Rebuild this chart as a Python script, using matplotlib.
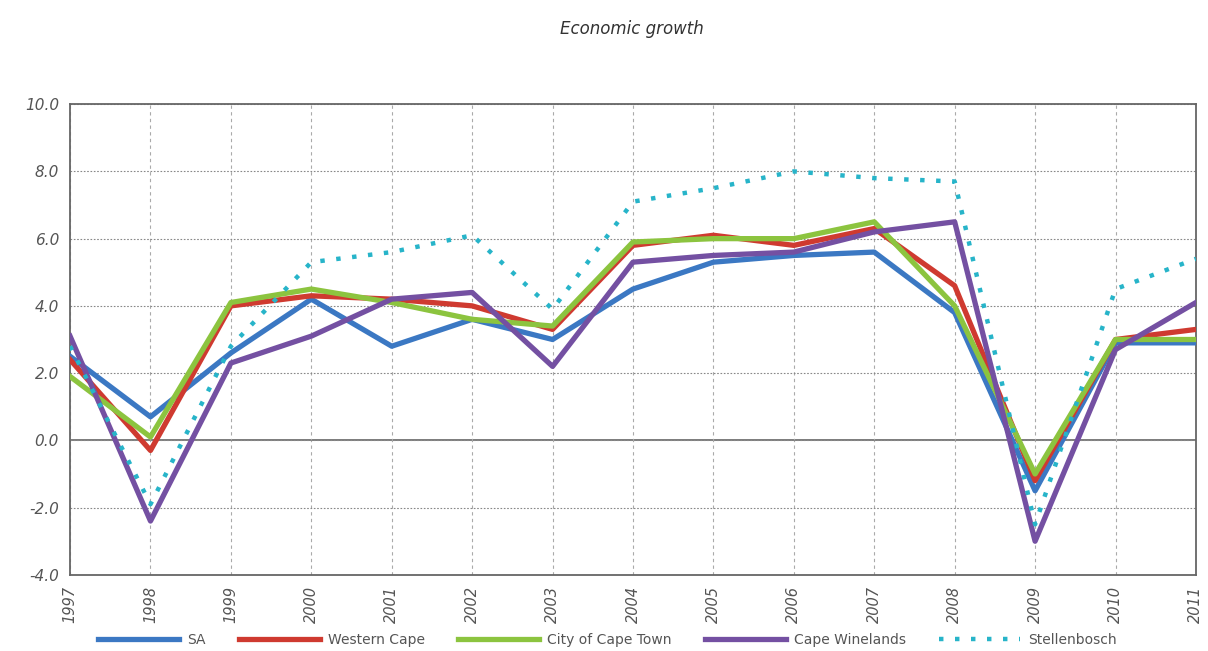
import numpy as np
import matplotlib.pyplot as plt

years = list(range(1997, 2012))

sa = [2.5, 0.7, 2.6, 4.2, 2.8, 3.6, 3.0, 4.5, 5.3, 5.5, 5.6, 3.8, -1.5, 2.9, 2.9]
western_cape = [2.4, -0.3, 4.0, 4.3, 4.2, 4.0, 3.3, 5.8, 6.1, 5.8, 6.3, 4.6, -1.2, 3.0, 3.3]
city_cape_town = [1.9, 0.1, 4.1, 4.5, 4.1, 3.6, 3.4, 5.9, 6.0, 6.0, 6.5, 4.0, -1.0, 3.0, 3.0]
cape_winelands = [3.1, -2.4, 2.3, 3.1, 4.2, 4.4, 2.2, 5.3, 5.5, 5.6, 6.2, 6.5, -3.0, 2.7, 4.1]
stellenbosch = [2.8, -1.9, 2.8, 5.3, 5.6, 6.1, 3.9, 7.1, 7.5, 8.0, 7.8, 7.7, -2.5, 4.5, 5.4]

y_ticks = [-4.0, -2.0, 0.0, 2.0, 4.0, 6.0, 8.0, 10.0]


def plot_chart():
    fig = plt.figure(figsize=(12.08, 6.51), dpi=100)
    ax = fig.add_axes([0.058, 0.117, 0.932, 0.723])

    ax.plot(years, sa, color='#3b78c3', lw=3.8, label='SA', zorder=3)
    ax.plot(years, western_cape, color='#cf3a30', lw=3.8, label='Western Cape', zorder=3)
    ax.plot(years, city_cape_town, color='#8cc43f', lw=3.8, label='City of Cape Town', zorder=3)
    ax.plot(years, cape_winelands, color='#7450a2', lw=3.8, label='Cape Winelands', zorder=3)
    ax.plot(years, stellenbosch, color='#27b4c9', lw=3.2, ls=(0, (1, 2.6)),
            label='Stellenbosch', zorder=4)

    ax.set_xlim(1997, 2011)
    ax.set_ylim(-4, 10)
    ax.set_yticks(y_ticks)
    ax.set_yticklabels([f'{v:.1f}' for v in y_ticks], fontsize=11,
                       style='italic', color='#555555')
    ax.set_xticks(years)
    ax.set_xticklabels([str(y) for y in years], rotation=90, fontsize=10.5,
                       style='italic', color='#555555')
    ax.tick_params(length=0, pad=8)

    # horizontal grid dotted, vertical grid dashed and lighter
    ax.grid(True, axis='y', ls=(0, (1.5, 1.5)), color='#888888', lw=0.8, zorder=0)
    ax.grid(True, axis='x', ls=(0, (3, 3)), color='#aaaaaa', lw=0.8, zorder=0)
    ax.axhline(0, color='#666666', lw=1.2, zorder=1)

    for side in ax.spines.values():
        side.set_color('#666666')
        side.set_linewidth(1.3)

    fig.text(0.523, 0.955, 'Economic growth', ha='center', va='center',
             fontsize=12, style='italic', color='#333333')

    fig.legend(loc='center', bbox_to_anchor=(0.503, 0.017), ncol=5, frameon=False,
               handlelength=5.8, columnspacing=2.4, handletextpad=0.6,
               labelcolor='#555555', prop={'size': 10})

    return fig, ax


def main():
    fig, ax = plot_chart()
    fig.savefig('out.png', dpi=100)


if __name__ == '__main__':
    main()
